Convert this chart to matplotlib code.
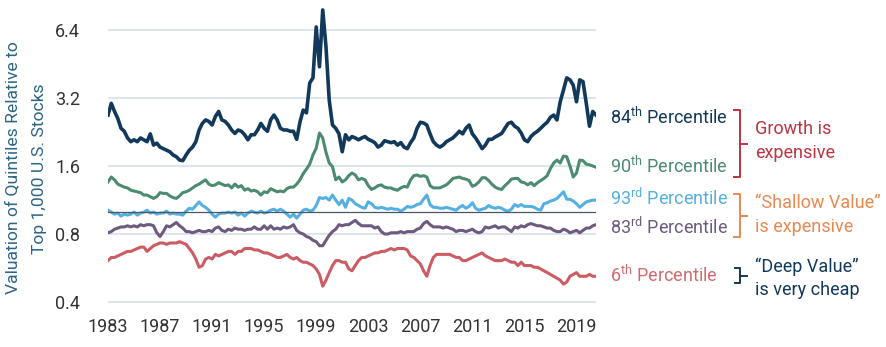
import numpy as np
import matplotlib
matplotlib.use("Agg")
import matplotlib.pyplot as plt
from matplotlib.lines import Line2D
from matplotlib.ticker import NullLocator

plt.rcParams["font.family"] = ["Roboto", "DejaVu Sans"]
plt.rcParams["mathtext.fontset"] = "custom"
plt.rcParams["mathtext.rm"] = "Roboto"

# quarterly valuations relative to the top 1,000 stocks, first point Q1 1983
pct84 = [2.69, 3.03, 2.79, 2.60, 2.35, 2.28, 2.13, 2.05, 2.09, 2.05,
         2.13, 2.09, 2.05, 2.22, 1.98, 2.02, 1.94, 1.91, 1.88, 1.85,
         1.79, 1.76, 1.70, 1.69, 1.79, 1.88, 1.94, 2.05, 2.31, 2.47,
         2.56, 2.52, 2.43, 2.65, 2.79, 2.56, 2.52, 2.43, 2.31, 2.23,
         2.31, 2.28, 2.20, 2.09, 2.20, 2.20, 2.31, 2.47, 2.35, 2.28,
         2.56, 2.69, 2.56, 2.35, 2.31, 2.31, 2.28, 2.28, 2.10, 2.50,
         2.83, 2.75, 3.73, 3.93, 6.60, 4.40, 7.85, 5.40, 3.13, 2.43,
         2.35, 2.22, 1.85, 2.20, 2.09, 2.16, 2.13, 2.09, 2.13, 2.16,
         2.10, 2.07, 2.03, 1.94, 1.98, 2.07, 2.05, 2.03, 2.05, 1.98,
         2.03, 1.94, 1.91, 2.03, 2.13, 2.35, 2.50, 2.48, 2.43, 2.22,
         2.05, 1.98, 1.94, 1.98, 2.05, 2.09, 2.13, 2.20, 2.28, 2.22,
         2.35, 2.43, 2.22, 2.13, 2.02, 1.91, 1.98, 2.10, 2.10, 2.15,
         2.19, 2.23, 2.35, 2.47, 2.50, 2.40, 2.35, 2.24, 2.09, 2.05,
         2.16, 2.23, 2.28, 2.35, 2.43, 2.50, 2.63, 2.69, 2.56, 3.08,
         3.47, 3.93, 3.85, 3.65, 3.08, 3.85, 3.78, 3.04, 2.40, 2.79,
         2.69]
pct90 = [1.36, 1.43, 1.39, 1.33, 1.31, 1.29, 1.28, 1.25, 1.24, 1.23,
         1.22, 1.19, 1.19, 1.17, 1.15, 1.17, 1.22, 1.21, 1.21, 1.18,
         1.16, 1.15, 1.18, 1.22, 1.23, 1.25, 1.28, 1.31, 1.33, 1.36,
         1.39, 1.33, 1.31, 1.32, 1.35, 1.33, 1.31, 1.32, 1.28, 1.33,
         1.29, 1.31, 1.25, 1.27, 1.24, 1.25, 1.23, 1.19, 1.23, 1.22,
         1.27, 1.25, 1.23, 1.24, 1.23, 1.27, 1.29, 1.29, 1.33, 1.39,
         1.48, 1.55, 1.63, 1.79, 1.92, 2.24, 2.13, 1.84, 1.65, 1.59,
         1.39, 1.43, 1.36, 1.39, 1.45, 1.49, 1.46, 1.39, 1.41, 1.39,
         1.31, 1.26, 1.28, 1.31, 1.32, 1.29, 1.28, 1.28, 1.26, 1.25,
         1.28, 1.30, 1.29, 1.39, 1.45, 1.46, 1.44, 1.45, 1.43, 1.31,
         1.28, 1.28, 1.28, 1.30, 1.32, 1.36, 1.41, 1.42, 1.43, 1.41,
         1.40, 1.38, 1.30, 1.32, 1.36, 1.42, 1.42, 1.38, 1.33, 1.29,
         1.27, 1.26, 1.31, 1.35, 1.40, 1.41, 1.41, 1.36, 1.35, 1.32,
         1.35, 1.31, 1.35, 1.38, 1.41, 1.45, 1.56, 1.65, 1.70, 1.65,
         1.77, 1.76, 1.60, 1.43, 1.49, 1.70, 1.69, 1.63, 1.62, 1.60,
         1.58]
pct93 = [1.02, 1.00, 0.98, 0.99, 0.96, 0.98, 0.97, 0.98, 1.00, 0.97,
         0.99, 1.00, 1.02, 0.99, 1.00, 0.98, 0.99, 0.99, 1.01, 0.98,
         0.99, 0.98, 0.98, 0.97, 1.01, 1.04, 1.03, 1.07, 1.11, 1.07,
         1.05, 1.02, 0.98, 0.95, 0.98, 0.99, 0.99, 1.00, 0.99, 1.00,
         0.97, 0.99, 0.96, 0.99, 1.01, 1.00, 0.99, 1.01, 0.99, 1.00,
         1.02, 1.03, 1.01, 1.03, 1.01, 0.98, 0.95, 0.98, 0.94, 0.98,
         1.02, 1.03, 1.01, 1.02, 1.07, 1.16, 1.15, 1.16, 1.13, 1.19,
         1.13, 1.08, 1.13, 1.05, 1.15, 1.13, 1.09, 1.07, 1.05, 1.04,
         1.11, 1.09, 1.05, 1.04, 1.05, 1.04, 1.03, 1.04, 1.03, 1.03,
         1.01, 1.03, 1.06, 1.05, 1.06, 1.08, 1.09, 1.14, 1.19, 1.08,
         1.05, 1.05, 1.04, 1.04, 1.05, 1.04, 1.03, 1.02, 1.05, 1.07,
         1.04, 1.06, 1.10, 1.04, 1.02, 1.03, 1.04, 1.07, 1.05, 1.04,
         1.05, 1.04, 1.02, 1.01, 1.03, 1.08, 1.06, 1.08, 1.06, 1.06,
         1.06, 1.05, 1.03, 1.02, 1.09, 1.10, 1.12, 1.13, 1.15, 1.19,
         1.23, 1.14, 1.14, 1.12, 1.09, 1.05, 1.08, 1.11, 1.12, 1.13,
         1.13]
pct83 = [0.81, 0.82, 0.84, 0.85, 0.86, 0.86, 0.87, 0.86, 0.87, 0.86,
         0.88, 0.87, 0.88, 0.88, 0.87, 0.81, 0.78, 0.82, 0.87, 0.86,
         0.88, 0.90, 0.87, 0.85, 0.82, 0.82, 0.81, 0.82, 0.83, 0.82,
         0.82, 0.83, 0.82, 0.85, 0.86, 0.83, 0.82, 0.84, 0.83, 0.85,
         0.84, 0.84, 0.83, 0.84, 0.84, 0.86, 0.84, 0.84, 0.87, 0.84,
         0.87, 0.84, 0.85, 0.84, 0.86, 0.85, 0.86, 0.88, 0.83, 0.81,
         0.80, 0.78, 0.77, 0.75, 0.74, 0.71, 0.71, 0.75, 0.79, 0.82,
         0.84, 0.88, 0.87, 0.88, 0.88, 0.90, 0.92, 0.89, 0.87, 0.87,
         0.87, 0.87, 0.85, 0.86, 0.82, 0.80, 0.80, 0.81, 0.81, 0.81,
         0.82, 0.81, 0.82, 0.82, 0.82, 0.84, 0.85, 0.89, 0.91, 0.88,
         0.86, 0.86, 0.86, 0.85, 0.86, 0.85, 0.84, 0.82, 0.83, 0.83,
         0.82, 0.83, 0.84, 0.82, 0.81, 0.82, 0.86, 0.85, 0.86, 0.87,
         0.85, 0.86, 0.86, 0.84, 0.82, 0.86, 0.85, 0.87, 0.86, 0.88,
         0.89, 0.88, 0.87, 0.87, 0.86, 0.85, 0.85, 0.83, 0.82, 0.82,
         0.84, 0.83, 0.81, 0.82, 0.83, 0.81, 0.83, 0.85, 0.85, 0.87,
         0.88]
pct6 = [0.61, 0.63, 0.63, 0.64, 0.65, 0.66, 0.67, 0.67, 0.68, 0.69,
        0.70, 0.70, 0.67, 0.69, 0.71, 0.72, 0.73, 0.73, 0.72, 0.73,
        0.73, 0.73, 0.74, 0.73, 0.72, 0.69, 0.66, 0.62, 0.57, 0.58,
        0.62, 0.63, 0.62, 0.65, 0.64, 0.65, 0.66, 0.67, 0.67, 0.65,
        0.67, 0.67, 0.69, 0.69, 0.69, 0.68, 0.68, 0.67, 0.66, 0.66,
        0.65, 0.64, 0.63, 0.63, 0.64, 0.65, 0.63, 0.62, 0.63, 0.61,
        0.60, 0.60, 0.59, 0.58, 0.56, 0.53, 0.47, 0.50, 0.54, 0.58,
        0.61, 0.61, 0.60, 0.60, 0.56, 0.55, 0.58, 0.61, 0.63, 0.63,
        0.64, 0.65, 0.66, 0.66, 0.67, 0.67, 0.68, 0.69, 0.68, 0.69,
        0.69, 0.69, 0.68, 0.64, 0.63, 0.61, 0.59, 0.55, 0.52, 0.58,
        0.63, 0.65, 0.65, 0.65, 0.65, 0.65, 0.64, 0.63, 0.63, 0.61,
        0.61, 0.62, 0.63, 0.64, 0.65, 0.66, 0.64, 0.63, 0.62, 0.61,
        0.61, 0.61, 0.62, 0.61, 0.60, 0.60, 0.58, 0.60, 0.58, 0.58,
        0.58, 0.57, 0.57, 0.56, 0.55, 0.54, 0.53, 0.52, 0.51, 0.50,
        0.48, 0.49, 0.52, 0.53, 0.54, 0.52, 0.52, 0.52, 0.53, 0.52,
        0.52]

year_ticks = [1983, 1987, 1991, 1995, 1999, 2003, 2007, 2011, 2015, 2019]
value_ticks = [0.4, 0.8, 1.6, 3.2, 6.4]
value_labels = ["0.4", "0.8", "1.6", "3.2", "6.4"]

NAVY = "#12395a"
GREEN = "#4b8b70"
SKY = "#55b0e2"
PURPLE = "#6d5b7f"
ROSE = "#cc5c63"
LABEL_ROSE = "#d06a70"
CRIMSON = "#bd3440"
ORANGE = "#e8894f"
TITLE_BLUE = "#2c6585"

W, H = 886, 347


def fx(x):
    return x / W


def fy(y):
    return 1 - y / H


fig = plt.figure(figsize=(W / 100, H / 100), dpi=100)
ax = fig.add_axes([fx(108), fy(304.5), (596 - 108) / W, 300 / H])

years = 1983 + np.arange(len(pct84)) / 4

ax.plot(years, pct6, color=ROSE, lw=2.2, zorder=3)
ax.plot(years, pct83, color=PURPLE, lw=2.2, zorder=3)
ax.plot(years, pct93, color=SKY, lw=2.2, zorder=3)
ax.plot(years, pct90, color=GREEN, lw=2.2, zorder=3)
ax.plot(years, pct84, color=NAVY, lw=2.6, zorder=4)
ax.axhline(1.0, color="#4a5664", lw=0.9, zorder=5)

ax.set_yscale("log", base=2)
ax.set_ylim(0.39, 8.3)
ax.set_xlim(1983, years[-1])
ax.set_yticks(value_ticks)
ax.set_yticklabels(value_labels)
ax.yaxis.set_minor_locator(NullLocator())
ax.set_xticks(year_ticks)
ax.set_xticklabels([str(y) for y in year_ticks])
ax.tick_params(axis="both", length=0, labelsize=13, colors="#333333")
ax.tick_params(axis="y", pad=20)
ax.tick_params(axis="x", pad=10)
ax.yaxis.grid(True, color="#dde5ec", lw=1.4)
ax.set_axisbelow(True)
for s in ax.spines.values():
    s.set_visible(False)

# axis title, one line at a time
fig.text(fx(13), fy(168), "Valuation of Quintiles Relative to", rotation=90,
         ha="center", va="center", fontsize=12.6, color=TITLE_BLUE)
fig.text(fx(40), fy(169), "Top 1,000 U.S. Stocks", rotation=90,
         ha="center", va="center", fontsize=12.6, color=TITLE_BLUE)

# series labels at the right end of the lines
series_labels = [
    ("84$^{\\mathrm{th}}$ Percentile", 117, NAVY),
    ("90$^{\\mathrm{th}}$ Percentile", 166.5, GREEN),
    ("93$^{\\mathrm{rd}}$ Percentile", 198.5, SKY),
    ("83$^{\\mathrm{rd}}$ Percentile", 227, PURPLE),
    ("6$^{\\mathrm{th}}$ Percentile", 275, LABEL_ROSE),
]
for txt, y, c in series_labels:
    fig.text(fx(610), fy(y), txt, ha="left", va="center", fontsize=13, color=c)


def bracket(top, bottom, color, x=740, left=734, tip=747):
    mid = (top + bottom) / 2
    pts_x = [left, x, x, left]
    pts_y = [top, top, bottom, bottom]
    fig.add_artist(Line2D([fx(v) for v in pts_x], [fy(v) for v in pts_y],
                          color=color, lw=1.4, transform=fig.transFigure))
    fig.add_artist(Line2D([fx(x), fx(tip)], [fy(mid), fy(mid)],
                          color=color, lw=1.4, transform=fig.transFigure))


bracket(110, 177, CRIMSON)
bracket(194, 237, ORANGE)
bracket(268, 283, NAVY, left=735)

notes = [
    ("Growth is", 129, CRIMSON),
    ("expensive", 153, CRIMSON),
    ("\u201cShallow Value\u201d", 203, ORANGE),
    ("is expensive", 227, ORANGE),
    ("\u201cDeep Value\u201d", 267, NAVY),
    ("is very cheap", 290, NAVY),
]
for txt, y, c in notes:
    fig.text(fx(755), fy(y), txt, ha="left", va="center", fontsize=13, color=c)

fig.savefig("out.png", dpi=100)
